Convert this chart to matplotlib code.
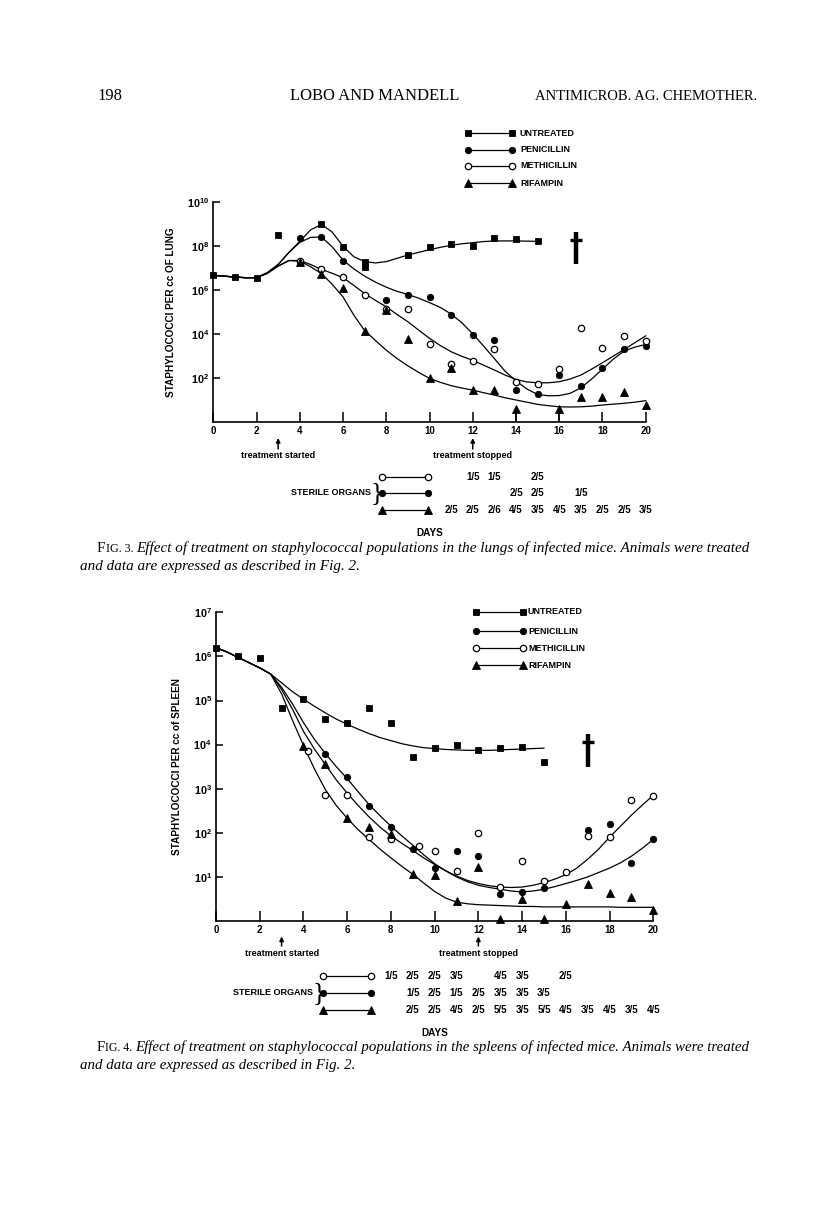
import numpy as np
import matplotlib
matplotlib.use("Agg")
import matplotlib.pyplot as plt
from matplotlib.lines import Line2D
from matplotlib.ticker import FixedLocator, NullLocator, FuncFormatter
from matplotlib.transforms import blended_transform_factory

plt.rcParams['mathtext.fontset'] = 'custom'
plt.rcParams['mathtext.rm'] = 'Liberation Sans'
plt.rcParams['mathtext.bf'] = 'Liberation Sans:bold'

# ---------------- DATA (log10 of staphylococci per cc) ----------------
# FIG. 3  lungs
lung_untreated_days = [0, 1, 2, 3, 5, 6, 7, 7, 9, 10, 11, 12, 13, 14, 15]
lung_untreated_log = [6.66, 6.56, 6.54, 8.5, 8.97, 7.95, 7.27, 7.04, 7.57, 7.95, 8.07, 7.99, 8.35, 8.32, 8.2]
lung_penicillin_days = [4, 5, 6, 8, 9, 10, 11, 12, 13, 14, 15, 16, 17, 18, 19, 20]
lung_penicillin_log = [8.35, 8.4, 7.31, 5.56, 5.75, 5.68, 4.85, 3.97, 3.72, 1.45, 1.27, 2.13, 1.65, 2.43, 3.32, 3.46]
lung_methicillin_days = [4, 5, 6, 7, 8, 9, 10, 11, 12, 13, 14, 15, 16, 17, 18, 19, 20]
lung_methicillin_log = [7.31, 6.93, 6.56, 5.76, 5.15, 5.12, 3.56, 2.63, 2.78, 3.31, 1.83, 1.72, 2.39, 4.27, 3.38, 3.91, 3.69]
lung_rifampin_days = [4, 5, 6, 7, 8, 9, 10, 11, 12, 13, 14, 16, 17, 18, 19, 20]
lung_rifampin_log = [7.28, 6.7, 6.1, 4.14, 5.1, 3.76, 1.98, 2.43, 1.45, 1.45, 0.6, 0.6, 1.15, 1.15, 1.34, 0.77]
lung_rifampin_below_limit_days = [14, 16]
lung_rifampin_below_limit_log = [0.6, 0.6]

# fitted curves, read every half day
lung_curve_untreated_days = np.arange(0, 15.01, 0.5)
lung_curve_untreated = [6.66, 6.62, 6.58, 6.55, 6.55, 6.78, 7.15, 7.7, 8.2, 8.72, 8.97, 8.62, 7.98,
                        7.5, 7.28, 7.22, 7.28, 7.43, 7.58, 7.7, 7.82, 7.93, 8.02, 8.09, 8.14, 8.19,
                        8.22, 8.22, 8.22, 8.21, 8.2]
lung_curve_days = np.arange(0, 20.01, 0.5)
lung_curve_penicillin = [6.66, 6.62, 6.58, 6.55, 6.55, 6.78, 7.15, 7.7, 8.15, 8.38, 8.4, 7.95, 7.35,
                         6.95, 6.62, 6.35, 6.12, 5.93, 5.79, 5.62, 5.42, 5.2, 4.9, 4.5, 4.0, 3.45,
                         2.88, 2.3, 1.87, 1.5, 1.25, 1.19, 1.2, 1.3, 1.55, 1.95, 2.4, 2.85, 3.22,
                         3.4, 3.52]
lung_curve_methicillin = [6.66, 6.62, 6.58, 6.55, 6.55, 6.75, 7.08, 7.33, 7.33, 7.15, 6.93, 6.75,
                          6.55, 6.2, 5.83, 5.52, 5.23, 4.88, 4.55, 4.17, 3.8, 3.47, 3.19, 2.98,
                          2.8, 2.58, 2.36, 2.13, 1.93, 1.82, 1.78, 1.78, 1.83, 1.95, 2.13, 2.4,
                          2.69, 2.99, 3.29, 3.6, 3.91]
lung_curve_rifampin = [6.66, 6.62, 6.58, 6.55, 6.55, 6.75, 7.08, 7.33, 7.3, 7.05, 6.74, 6.25,
                       5.68, 4.85, 4.15, 3.7, 3.26, 2.88, 2.55, 2.25, 1.98, 1.8, 1.65, 1.54, 1.45,
                       1.33, 1.22, 1.1, 1.0, 0.9, 0.8, 0.74, 0.69, 0.68, 0.69, 0.72, 0.77, 0.81,
                       0.85, 0.9, 0.97]

lung_sterile_methicillin = {12: "1/5", 13: "1/5", 15: "2/5"}
lung_sterile_penicillin = {14: "2/5", 15: "2/5", 17: "1/5"}
lung_sterile_rifampin = {11: "2/5", 12: "2/5", 13: "2/6", 14: "4/5", 15: "3/5", 16: "4/5",
                         17: "3/5", 18: "2/5", 19: "2/5", 20: "3/5"}

# FIG. 4  spleens
spl_untreated_days = list(range(0, 16))
spl_untreated_log = [6.2, 6.0, 5.97, 4.82, 5.04, 4.59, 4.5, 4.84, 4.5, 3.71, 3.93, 4.0, 3.87, 3.93, 3.94, 3.61]
spl_penicillin_days = [5, 6, 7, 8, 9, 10, 11, 12, 13, 14, 15, 17, 18, 19, 20]
spl_penicillin_log = [3.79, 3.26, 2.6, 2.14, 1.63, 1.21, 1.59, 1.48, 0.61, 0.65, 0.74, 2.06, 2.19, 1.31, 1.85]
spl_methicillin_days = [4.2, 5, 6, 7, 8, 9.3, 10, 11, 12, 13, 14, 15, 16, 17, 18, 19, 20]
spl_methicillin_log = [3.85, 2.85, 2.85, 1.91, 1.87, 1.7, 1.59, 1.14, 2.0, 0.78, 1.36, 0.91, 1.1, 1.93, 1.91, 2.74, 2.83]
spl_rifampin_days = [4, 5, 6, 7, 8, 9, 10, 11, 12, 13, 14, 15, 16, 17, 18, 19, 20]
spl_rifampin_log = [3.96, 3.55, 2.34, 2.14, 1.98, 1.06, 1.05, 0.45, 1.22, 0.04, 0.5, 0.04, 0.38, 0.84, 0.63, 0.54, 0.24]

spl_curve_untreated_days = np.arange(0, 15.01, 0.5)
spl_curve_untreated = [6.2, 6.1, 5.98, 5.86, 5.74, 5.6, 5.4, 5.2, 5.03, 4.87, 4.72, 4.58, 4.46, 4.35,
                       4.25, 4.16, 4.09, 4.02, 3.97, 3.93, 3.91, 3.89, 3.88, 3.87, 3.87, 3.87, 3.88,
                       3.89, 3.9, 3.91, 3.92]
spl_curve_days = np.arange(0, 20.01, 0.5)
spl_curve_penicillin = [6.2, 6.1, 5.98, 5.86, 5.74, 5.6, 5.3, 4.92, 4.5, 4.12, 3.8, 3.5, 3.23, 2.93,
                        2.64, 2.39, 2.15, 1.93, 1.72, 1.5, 1.3, 1.14, 1.0, 0.89, 0.81, 0.76, 0.72,
                        0.68, 0.66, 0.68, 0.72, 0.78, 0.85, 0.92, 1.0, 1.1, 1.2, 1.32, 1.47, 1.65, 1.85]
spl_curve_methicillin = [6.2, 6.1, 5.98, 5.86, 5.74, 5.6, 5.25, 4.8, 4.3, 3.9, 3.55, 3.2, 2.9, 2.62,
                         2.36, 2.13, 1.93, 1.76, 1.6, 1.43, 1.28, 1.14, 1.02, 0.92, 0.85, 0.8, 0.77,
                         0.76, 0.77, 0.81, 0.87, 0.95, 1.05, 1.2, 1.4, 1.63, 1.9, 2.15, 2.4, 2.63, 2.85]
spl_curve_rifampin = [6.2, 6.1, 5.98, 5.86, 5.74, 5.6, 5.15, 4.55, 3.98, 3.45, 2.98, 2.62, 2.33, 2.07,
                      1.85, 1.63, 1.43, 1.24, 1.06, 0.86, 0.67, 0.52, 0.43, 0.39, 0.37, 0.36, 0.35,
                      0.34, 0.33, 0.33, 0.32, 0.32, 0.32, 0.32, 0.32, 0.32, 0.32, 0.31, 0.31, 0.31, 0.31]

spl_sterile_methicillin = {8: "1/5", 9: "2/5", 10: "2/5", 11: "3/5", 13: "4/5", 14: "3/5", 16: "2/5"}
spl_sterile_penicillin = {9: "1/5", 10: "2/5", 11: "1/5", 12: "2/5", 13: "3/5", 14: "3/5", 15: "3/5"}
spl_sterile_rifampin = {9: "2/5", 10: "2/5", 11: "4/5", 12: "2/5", 13: "5/5", 14: "3/5", 15: "5/5",
                        16: "4/5", 17: "3/5", 18: "4/5", 19: "3/5", 20: "4/5"}

series_names = ["UNTREATED", "PENICILLIN", "METHICILLIN", "RIFAMPIN"]
treatment_start_day = 3
treatment_stop_day = 12
death_day_lung, death_lung_log = 16.76, (7.19, 8.62, 8.28)
death_day_spl, death_spl_log = 17.0, (3.49, 4.24, 4.06)

# ---------------- STYLE ----------------
W, H = 816, 1216
fig = plt.figure(figsize=(W / 100, H / 100), dpi=100)
SANS = 'Liberation Sans'
SERIF = 'Liberation Serif'

def fx(px):
    return px / W

def fy(py):
    return 1 - py / H

styles = {
    "UNTREATED": dict(marker='s', ms=5.0, mfc='black', mec='black', mew=0.6),
    "PENICILLIN": dict(marker='o', ms=4.6, mfc='black', mec='black', mew=0.6),
    "METHICILLIN": dict(marker='o', ms=4.6, mfc='white', mec='black', mew=0.9),
    "RIFAMPIN": dict(marker='^', ms=5.2, mfc='black', mec='black', mew=0.6),
}


def make_axes(left, right, top, bottom, ymax_exp, ytick_exps):
    ax = fig.add_axes([fx(left), fy(bottom), fx(right) - fx(left), (bottom - top) / H])
    ax.set_xlim(0, 20)
    ax.set_ylim(1, 10.0 ** ymax_exp)
    ax.set_yscale('log')
    for s in ('top', 'right'):
        ax.spines[s].set_visible(False)
    for s in ('left', 'bottom'):
        ax.spines[s].set_linewidth(1.2)
    ax.xaxis.set_major_locator(FixedLocator(list(range(0, 21, 2))))
    ax.yaxis.set_major_locator(FixedLocator([10.0 ** e for e in ytick_exps]))
    ax.yaxis.set_minor_locator(NullLocator())
    ax.xaxis.set_minor_locator(NullLocator())
    ax.yaxis.set_major_formatter(FuncFormatter(
        lambda v, p: r'$\mathbf{10^{%d}}$' % int(round(np.log10(v)))))
    ax.tick_params(axis='x', direction='in', length=7, width=1.1, pad=3, labelsize=7)
    ax.tick_params(axis='y', direction='in', length=5, width=1.1, pad=3, labelsize=7.8)
    for lab in ax.get_xticklabels():
        lab.set_fontfamily(SANS)
        lab.set_fontweight('bold')
    return ax


def draw_series(ax, name, days, vals):
    ax.plot(days, 10.0 ** np.array(vals), ls='none', clip_on=False, zorder=3, **styles[name])


def draw_curve(ax, days, vals):
    ax.plot(days, 10.0 ** np.array(vals), color='black', lw=0.9, clip_on=False, zorder=2)


def draw_legend(rows_y, x0, x1, xt):
    for name, y in zip(series_names, rows_y):
        fig.add_artist(Line2D([fx(x0), fx(x1)], [fy(y), fy(y)], color='black', lw=0.9,
                              **styles[name]))
        fig.text(fx(xt), fy(y), name, fontsize=6.5, fontweight='bold', family=SANS,
                 va='center', ha='left')


def draw_dagger(ax, day, logs):
    lo, hi, bar = logs
    ax.plot([day, day], [10 ** lo, 10 ** hi], color='black', lw=3.2, solid_capstyle='butt')
    ax.plot([day - 0.28, day + 0.28], [10 ** bar, 10 ** bar], color='black', lw=2.4,
            solid_capstyle='butt')


def below_axis(ax, arrow_tip, arrow_tail, text_y, rows_y, line_x0, line_x1, sterile_x,
               sterile_sets, days_y):
    tr = blended_transform_factory(ax.transData, fig.transFigure)
    for d, lab in ((treatment_start_day, 'treatment started'),
                   (treatment_stop_day, 'treatment stopped')):
        ax.annotate('', xy=(d, fy(arrow_tip)), xycoords=tr, xytext=(d, fy(arrow_tail)),
                    textcoords=tr, annotation_clip=False,
                    arrowprops=dict(arrowstyle='-|>', lw=1.1, color='black',
                                    mutation_scale=6, shrinkA=0, shrinkB=0))
        ax.text(d, fy(text_y), lab, transform=tr, ha='center', va='center', fontsize=6.5,
                fontweight='bold', family=SANS)
    names = ["METHICILLIN", "PENICILLIN", "RIFAMPIN"]
    for name, y, sset in zip(names, rows_y, sterile_sets):
        fig.add_artist(Line2D([fx(line_x0), fx(line_x1)], [fy(y), fy(y)], color='black',
                              lw=0.9, **styles[name]))
        for d, lab in sset.items():
            ax.text(d, fy(y), lab, transform=tr, ha='center', va='center', fontsize=7,
                    fontweight='bold', family=SANS)
    fig.text(fx(sterile_x), fy(rows_y[1]), 'STERILE ORGANS', ha='right', va='center',
             fontsize=6.5, fontweight='bold', family=SANS)
    fig.text(fx(sterile_x + 6), fy(rows_y[1]), '}', ha='center', va='center', fontsize=19,
             family=SERIF, fontweight='light')
    ax.text(10, fy(days_y), 'DAYS', transform=tr, ha='center', va='center', fontsize=7.2,
            fontweight='bold', family=SANS)


# ---------------- FIG. 3 (lung) ----------------
ax1 = make_axes(213.3, 645.7, 201.7, 422, 10, [2, 4, 6, 8, 10])
draw_curve(ax1, lung_curve_untreated_days, lung_curve_untreated)
draw_curve(ax1, lung_curve_days, lung_curve_penicillin)
draw_curve(ax1, lung_curve_days, lung_curve_methicillin)
draw_curve(ax1, lung_curve_days, lung_curve_rifampin)
ax1.vlines(lung_rifampin_below_limit_days, 1, 10.0 ** np.array(lung_rifampin_below_limit_log),
           color='black', lw=1.1)
draw_series(ax1, "UNTREATED", lung_untreated_days, lung_untreated_log)
draw_series(ax1, "PENICILLIN", lung_penicillin_days, lung_penicillin_log)
draw_series(ax1, "METHICILLIN", lung_methicillin_days, lung_methicillin_log)
draw_series(ax1, "RIFAMPIN", lung_rifampin_days, lung_rifampin_log)
draw_dagger(ax1, death_day_lung, death_lung_log)
ax1.set_ylabel('STAPHYLOCOCCI PER cc OF LUNG', fontsize=7.2, fontweight='bold', family=SANS,
               labelpad=8)
draw_legend([133, 150, 166, 183], 468, 512, 520)
below_axis(ax1, 438, 449, 455, [477.3, 492.7, 510], 381.7, 428.3, 370.7,
           [lung_sterile_methicillin, lung_sterile_penicillin, lung_sterile_rifampin], 533.5)

# ---------------- FIG. 4 (spleen) ----------------
ax2 = make_axes(216, 653.3, 612.3, 921, 7, [1, 2, 3, 4, 5, 6, 7])
draw_curve(ax2, spl_curve_untreated_days, spl_curve_untreated)
draw_curve(ax2, spl_curve_days, spl_curve_penicillin)
draw_curve(ax2, spl_curve_days, spl_curve_methicillin)
draw_curve(ax2, spl_curve_days, spl_curve_rifampin)
draw_series(ax2, "UNTREATED", spl_untreated_days, spl_untreated_log)
draw_series(ax2, "PENICILLIN", spl_penicillin_days, spl_penicillin_log)
draw_series(ax2, "METHICILLIN", spl_methicillin_days, spl_methicillin_log)
draw_series(ax2, "RIFAMPIN", spl_rifampin_days, spl_rifampin_log)
draw_dagger(ax2, death_day_spl, death_spl_log)
ax2.set_ylabel('STAPHYLOCOCCI PER cc of SPLEEN', fontsize=7.2, fontweight='bold', family=SANS,
               labelpad=8)
draw_legend([611.7, 631, 648.3, 665], 476, 523, 528)
below_axis(ax2, 936.5, 946, 953.3, [976, 992.7, 1010], 323, 370.7, 312.7,
           [spl_sterile_methicillin, spl_sterile_penicillin, spl_sterile_rifampin], 1032.7)

# ---------------- page header & captions ----------------
fig.text(fx(97), fy(96), '198', fontsize=12, family=SERIF, va='center', ha='left')
fig.text(fx(375), fy(96), 'LOBO AND MANDELL', fontsize=12, family=SERIF, va='center', ha='center')
fig.text(fx(757), fy(96), 'ANTIMICROB. AG. CHEMOTHER.', fontsize=10.5, family=SERIF, va='center',
         ha='right')

renderer = fig.canvas.get_renderer()


def chain(x_px, y_px, parts):
    x = fx(x_px)
    for txt, kw in parts:
        t = fig.text(x, fy(y_px), txt, va='baseline', ha='left', family=SERIF, **kw)
        bb = t.get_window_extent(renderer=renderer)
        x = bb.x1 / W


def caption(y1, num, organ, size):
    chain(97, y1, [('F', dict(fontsize=size)), ('IG. %d. ' % num, dict(fontsize=size * 0.8)),
                   ('Effect of treatment on staphylococcal populations in the %s of infected '
                    'mice. Animals were treated' % organ, dict(fontsize=size, style='italic'))])
    chain(80, y1 + 18, [('and data are expressed as described in Fig. 2.',
                         dict(fontsize=size, style='italic'))])


caption(552, 3, 'lungs', 10.9)
caption(1051, 4, 'spleens', 10.75)

fig.savefig('out.png', dpi=100, facecolor='white')
